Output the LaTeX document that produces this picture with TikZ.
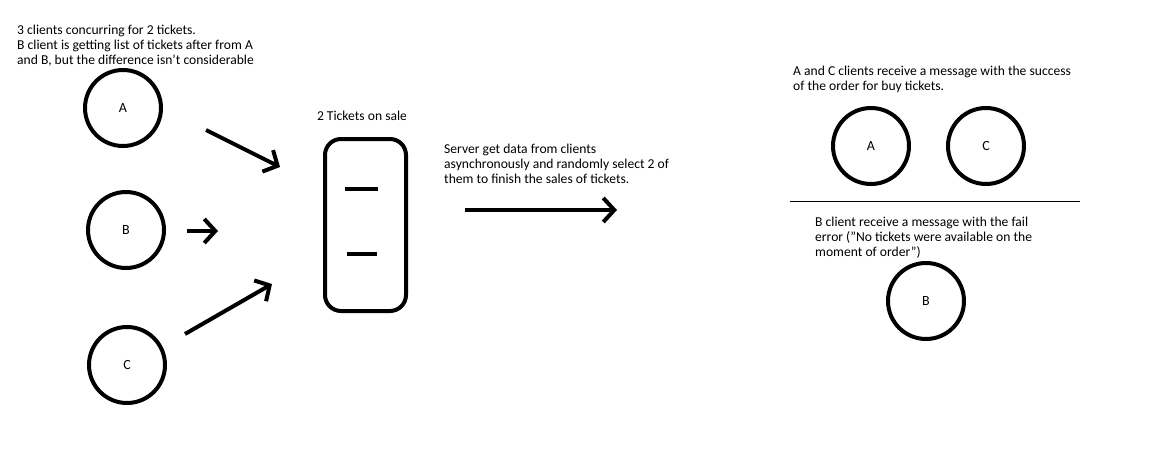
\documentclass[tikz,border=0pt]{standalone}
\usepackage{fontspec}
\setmainfont{Carlito}
\usetikzlibrary{arrows.meta}
\tikzset{
  client/.style={circle, draw, line width=4pt, minimum size=76pt, inner sep=0pt, font=\fontsize{14}{15}\selectfont},
  arr/.style={line width=4pt, -{Straight Barb[length=11pt,width=24pt]}},
  txt/.style={anchor=base west, inner sep=0pt, align=left, font=\fontsize{13.6}{15}\selectfont},
  thick4/.style={line width=4pt},
}
\begin{document}
\begin{tikzpicture}[x=1pt,y=-1pt]
\useasboundingbox (0,0) rectangle (1152,452);
% left text (anchor = baseline of last line)
\node[txt] (intro) at (17,65) {3 clients concurring for 2 tickets.\\B client is getting list of tickets after from A\\and B, but the difference isn\symbol{39}t considerable};
% clients
\node[client] (A) at (123,108) {A};
\node[client] (B) at (126,230) {B};
\node[client] (C) at (127,365) {C};
% arrow coordinates
\coordinate (a1) at (206,130);
\coordinate (a2) at (280,167);
\coordinate (b1) at (187,231);
\coordinate (b2) at (218,231);
\coordinate (c1) at (185,334);
\coordinate (c2) at (272,284);
\draw[arr] (a1) -- (a2);
\draw[arr] (b1) -- (b2);
\draw[arr] (c1) -- (c2);
% server
\node[txt, anchor=base] (saletxt) at (362,121) {2 Tickets on sale};
\draw[thick4, rounded corners=16pt] (325,139) rectangle (406,311);
\coordinate (t1a) at (345,189);
\coordinate (t1b) at (378,189);
\coordinate (t2a) at (347,254);
\coordinate (t2b) at (377,254);
\draw[thick4] (t1a) -- (t1b);
\draw[thick4] (t2a) -- (t2b);
% server text + arrow
\node[txt] (srvtxt) at (444,183) {Server get data from clients\\asynchronously and randomly select 2 of\\them to finish the sales of tickets.};
\coordinate (s1) at (465,210);
\coordinate (s2) at (617,210);
\draw[arr] (s1) -- (s2);
% right side
\node[txt] (oktxt) at (793,91) {A and C clients receive a message with the success\\of the order for buy tickets.};
\node[client] (A2) at (871,146) {A};
\node[client] (C2) at (986,146) {C};
\coordinate (l1) at (790,201);
\coordinate (l2) at (1080,201);
\draw[line width=1pt] (l1) -- (l2);
\node[txt] (failtxt) at (815,256) {B client receive a message with the fail\\error (\symbol{34}No tickets were available on the\\moment of order\symbol{34})};
\node[client] (B2) at (926,301) {B};
\end{tikzpicture}
\end{document}
